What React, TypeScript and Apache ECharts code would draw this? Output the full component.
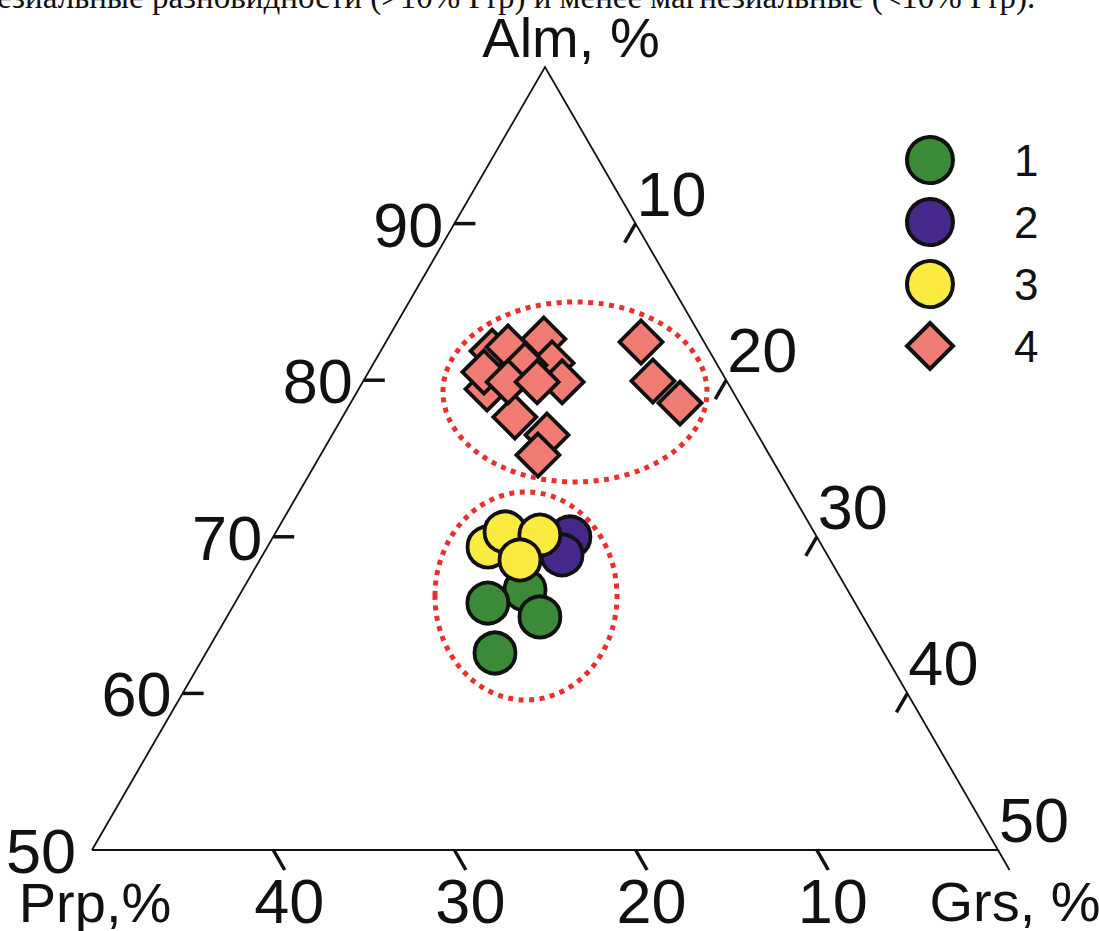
import React, { useEffect, useRef } from "react";
import * as echarts from "echarts";

// Ternary compositions, % : [Prp, Alm, Grs]
const group1: number[][] = [
  [17.8, 66.6, 15.6],
  [20.27, 65.77, 13.96],
  [17.84, 64.88, 17.28],
  [21.47, 62.58, 15.95],
];
const group2: number[][] = [
  [13.63, 69.99, 16.38],
  [14.64, 68.84, 16.52],
];
const group3: number[][] = [
  [18.47, 69.35, 12.18],
  [17.05, 70.31, 12.64],
  [15.23, 70.11, 14.66],
  [17.12, 68.52, 14.36],
];
const group4: number[][] = [
  [11.99, 81.86, 6.15],
  [10.98, 82.12, 6.9],
  [8.75, 82.63, 8.62],
  [9.06, 81.1, 9.84],
  [10.62, 80.97, 8.41],
  [9.11, 79.89, 11.0],
  [13.48, 79.44, 7.08],
  [13.11, 80.52, 6.37],
  [12.84, 77.65, 9.51],
  [12.09, 79.89, 8.02],
  [10.49, 79.89, 9.62],
  [11.64, 76.5, 11.86],
  [12.78, 75.22, 12.0],
  [3.48, 82.44, 14.08],
  [4.07, 79.95, 15.98],
  [3.28, 78.54, 18.18],
];
// Dotted field outlines: centre compositions [Prp, Alm, Grs]
const fieldCentres: number[][] = [
  [8.72, 79.25, 12.03],
  [17.94, 66.22, 15.84],
];

const seriesNames = ["1", "2", "3", "4"];
const almTicks = [90, 80, 70, 60];
const grsTicks = [10, 20, 30, 40, 50];
const prpTicks = [40, 30, 20, 10, 0];
const prpTickLabels = [40, 30, 20, 10];

const headerText =
  "езиальные разновидности (>10% Prp) и менее магнезиальные (<10% Prp).";

// style constants
const fieldRadii = [
  [132, 90],
  [91, 104],
];
const COLORS = ["#3a8a38", "#45288a", "#fbea3f", "#ef7b73"];
const SANS = '"Liberation Sans", Arial, sans-serif';

const H = Math.sqrt(3) / 2;
const toXY = (t: number[]) => {
  const [prp, alm, grs] = t;
  const s = prp + alm + grs;
  const a = (alm / s) * 100;
  const g = (grs / s) * 100;
  return [g + a / 2, a * H];
};

export default function App() {
  const ref = useRef<HTMLDivElement>(null);

  useEffect(() => {
    if (!ref.current) return;
    const chart = echarts.init(ref.current, undefined, { renderer: "svg" });

    const frameRender = (_params: any, api: any) => {
      const c = (t: number[]) => api.coord(toXY(t));
      const A = c([0, 100, 0]);
      const L = c([50, 50, 0]);
      const R = c([0, 50, 50]);
      const kids: any[] = [];
      kids.push({
        type: "polyline",
        shape: { points: [L, A, R, L] },
        style: { fill: "none", stroke: "#111", lineWidth: 1.8 },
      });
      const num = (text: string, x: number, y: number, size: number, align = "center") => ({
        type: "text",
        x,
        y,
        style: {
          text,
          fill: "#111",
          fontSize: size,
          fontFamily: SANS,
          lineHeight: Math.round(size * 0.72),
          align,
          verticalAlign: "middle",
        },
      });
      almTicks.forEach((a) => {
        const p = c([100 - a, a, 0]);
        kids.push({
          type: "line",
          shape: { x1: p[0], y1: p[1], x2: p[0] + 21, y2: p[1] },
          style: { stroke: "#111", lineWidth: 3.5 },
        });
        kids.push(num(String(a), p[0] - 11, p[1] + 1, 63, "right"));
      });
      grsTicks.forEach((g) => {
        const p = c([0, 100 - g, g]);
        if (g < 50) {
          kids.push({
            type: "line",
            shape: { x1: p[0], y1: p[1], x2: p[0] - 11, y2: p[1] + 19 },
            style: { stroke: "#111", lineWidth: 3.5 },
          });
        }
        kids.push(num(String(g), p[0] + 36, p[1] - 30, 63));
      });
      prpTicks.forEach((pr) => {
        const p = c([pr, 50, 50 - pr]);
        kids.push({
          type: "line",
          shape: { x1: p[0], y1: p[1], x2: p[0] + 11.5, y2: p[1] + 20 },
          style: { stroke: "#111", lineWidth: pr === 0 ? 1.8 : 3.5 },
        });
      });
      prpTickLabels.forEach((pr) => {
        const p = c([pr, 50, 50 - pr]);
        kids.push(num(String(pr), p[0] + 16, p[1] + 51, 63));
      });
      kids.push(num("50", L[0] - 16, L[1] + 1, 63, "right"));
      kids.push(num("Alm, %", A[0] + 26, A[1] - 30, 56));
      kids.push(num("Prp,%", L[0] + 3, L[1] + 52, 56));
      kids.push(num("Grs, %", R[0] + 17, R[1] + 51, 56));
      return { type: "group", children: kids };
    };

    const fieldRender = (params: any, api: any) => {
      const p = api.coord([api.value(0), api.value(1)]);
      const r = fieldRadii[params.dataIndex];
      return {
        type: "ellipse",
        shape: { cx: p[0], cy: p[1], rx: r[0], ry: r[1] },
        style: {
          fill: "none",
          stroke: "#e8302e",
          lineWidth: 5,
          lineDash: [5, 5.5],
        },
      };
    };

    const groups = [group1, group2, group3, group4];

    chart.setOption({
      animation: false,
      backgroundColor: "#ffffff",
      grid: { left: 92, right: 101, top: 67, bottom: 81 },
      xAxis: { type: "value", min: 25, max: 75, show: false },
      yAxis: { type: "value", min: 25 * Math.sqrt(3), max: 50 * Math.sqrt(3), show: false },
      legend: {
        data: seriesNames,
        orient: "vertical",
        left: 905,
        top: 135,
        padding: 0,
        itemWidth: 46,
        itemHeight: 46,
        itemGap: 12,
        itemStyle: { borderColor: "#111", borderWidth: 4 },
        textStyle: {
          fontSize: 44,
          fontFamily: SANS,
          color: "#111",
          padding: [0, 0, 0, 56],
        },
      },
      graphic: [
        {
          type: "text",
          x: -3,
          y: -3,
          style: {
            text: headerText,
            fill: "#111",
            fontSize: 33,
            lineHeight: 24,
            fontFamily: '"Liberation Serif", "Times New Roman", serif',
            align: "left",
            verticalAlign: "middle",
          },
        },
      ],
      series: [
        {
          type: "custom",
          name: "frame",
          coordinateSystem: "cartesian2d",
          data: [[50, 60]],
          renderItem: frameRender,
          silent: true,
          clip: false,
          z: 1,
        },
        ...groups.map((g, i) => ({
          type: "scatter",
          name: seriesNames[i],
          data: g.map(toXY),
          symbol: i === 3 ? "diamond" : "circle",
          symbolSize: i === 3 ? 43 : 41,
          itemStyle: {
            color: COLORS[i],
            borderColor: "#111",
            borderWidth: 3.8,
            opacity: 1,
          },
          z: 3,
        })),
        {
          type: "custom",
          name: "fields",
          coordinateSystem: "cartesian2d",
          data: fieldCentres.map(toXY),
          renderItem: fieldRender,
          silent: true,
          clip: false,
          z: 4,
        },
      ],
    });

    return () => chart.dispose();
  }, []);

  return (
    <div
      ref={ref}
      style={{ position: "fixed", left: 0, top: 0, width: 1099, height: 931, background: "#fff" }}
    />
  );
}
